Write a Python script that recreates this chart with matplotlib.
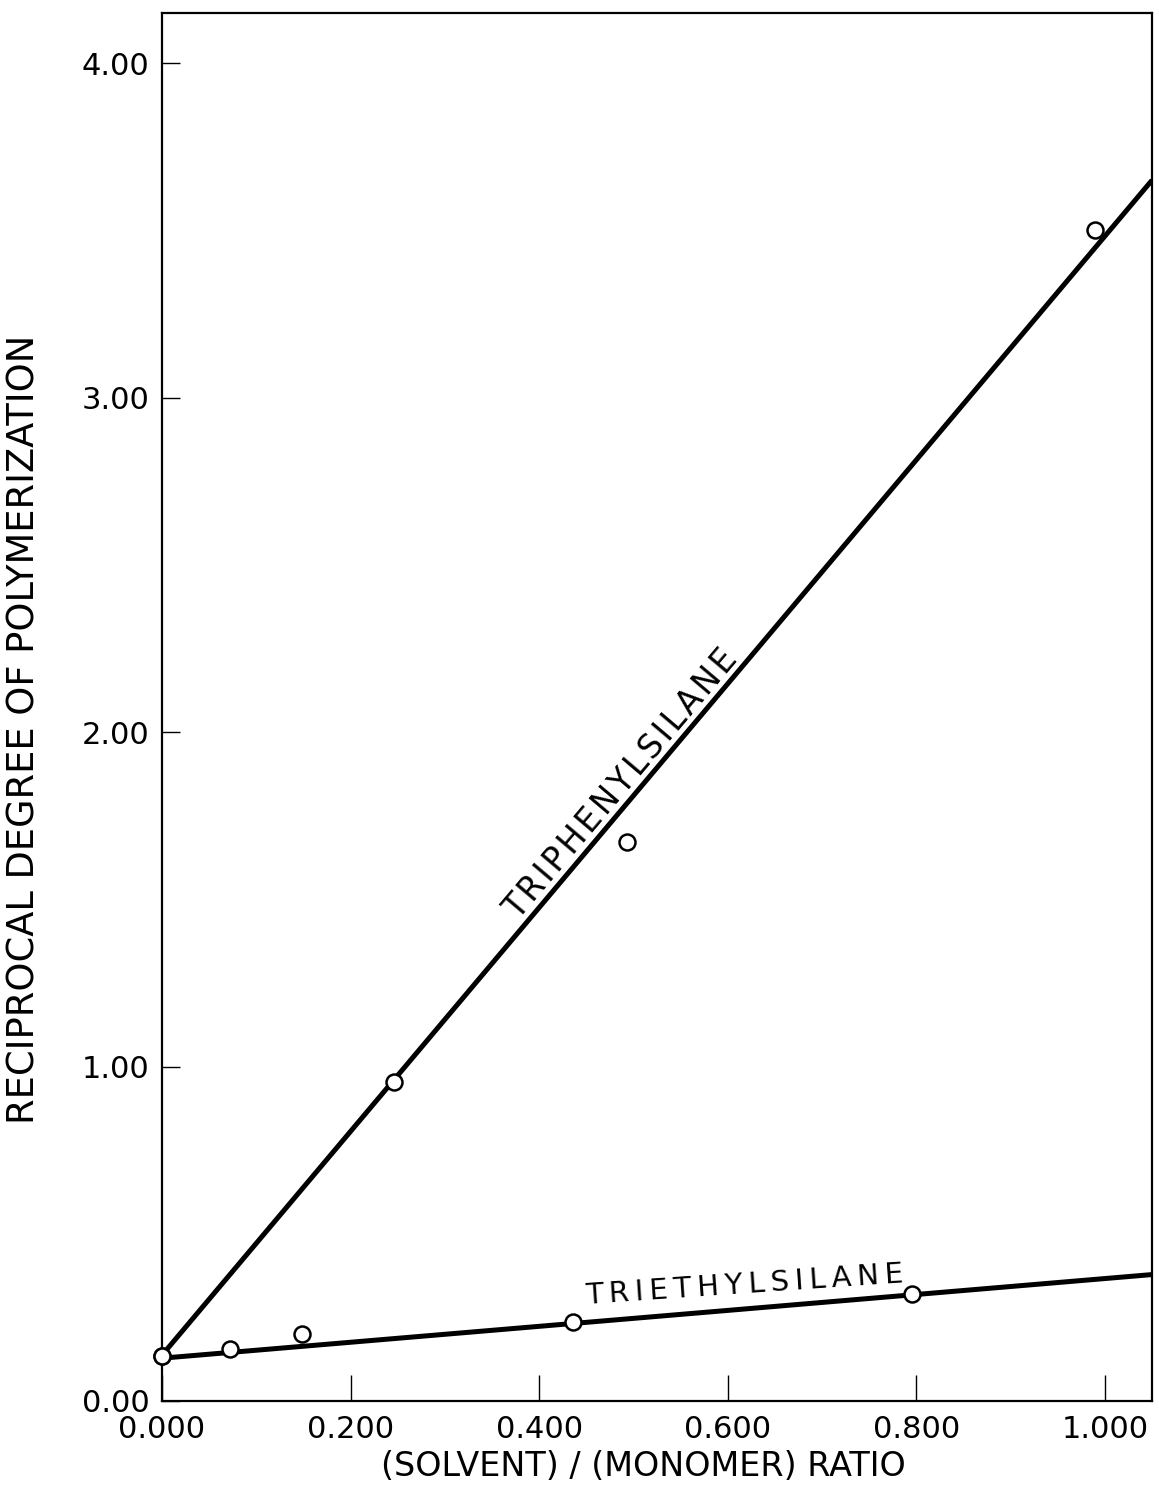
import numpy as np
import matplotlib
matplotlib.use("Agg")
import matplotlib.pyplot as plt

triethyl_x = [0.000, 0.072, 0.148, 0.436, 0.795]
triethyl_y = [0.134, 0.155, 0.200, 0.236, 0.319]
triphenyl_x = [0.000, 0.246, 0.493, 0.990]
triphenyl_y = [0.134, 0.955, 1.672, 3.500]

# drawn straight lines (end values at the axis limits)
fit_x = [0.000, 1.050]
triethyl_fit = [0.128, 0.378]
triphenyl_fit = [0.137, 3.650]

xticks = [0.0, 0.2, 0.4, 0.6, 0.8, 1.0]
xlabels = ["0.000", "0.200", "0.400", "0.600", "0.800", "1.000"]
yticks = [0.0, 1.0, 2.0, 3.0, 4.0]
ylabels = ["0.00", "1.00", "2.00", "3.00", "4.00"]

plt.rcParams['font.family'] = ['DejaVu Sans']


def spaced(s, gap="\u2009"):
    # hand lettering on the original is spread out a bit
    return gap.join(s)


fig = plt.figure(figsize=(11.59, 14.90), dpi=100)
ax = fig.add_axes([162/1159, 89/1490, 990/1159, 1388/1490])

ax.plot(fit_x, triphenyl_fit, color='black', lw=3.6, solid_capstyle='butt', zorder=2)
ax.plot(fit_x, triethyl_fit, color='black', lw=3.6, solid_capstyle='butt', zorder=2)
ax.plot(triphenyl_x, triphenyl_y, 'o', ms=11.5, mfc='white', mec='black', mew=1.8, zorder=3, clip_on=False)
ax.plot(triethyl_x, triethyl_y, 'o', ms=11.5, mfc='white', mec='black', mew=1.8, zorder=3, clip_on=False)

ax.set_xlim(0, 1.05)
ax.set_ylim(0, 4.15)
ax.set_xticks(xticks)
ax.set_xticklabels(xlabels)
ax.set_yticks(yticks)
ax.set_yticklabels(ylabels)

for s in ax.spines.values():
    s.set_linewidth(1.6)
ax.tick_params(axis='x', direction='in', length=19, width=1.0, pad=10, labelsize=22)
ax.tick_params(axis='y', direction='in', length=13, width=1.0, pad=9, labelsize=22)

ax.set_xlabel("(SOLVENT) / (MONOMER) RATIO", fontsize=24)
ax.xaxis.set_label_coords(0.486, -0.035)
ax.xaxis.label.set_va('top')
ax.set_ylabel("RECIPROCAL DEGREE OF POLYMERIZATION", fontsize=26.5)
ax.yaxis.set_label_coords(-0.121, 0.484)

ax.text(0.487, 1.845, spaced("TRIPHENYLSILANE", "\u200a"), rotation=49.8, rotation_mode='anchor',
        ha='center', va='center', fontsize=23.5)
ax.text(0.618, 0.346, spaced("TRIETHYLSILANE"), rotation=3.9, rotation_mode='anchor',
        ha='center', va='center', fontsize=21)

fig.savefig("out.png", dpi=100)
